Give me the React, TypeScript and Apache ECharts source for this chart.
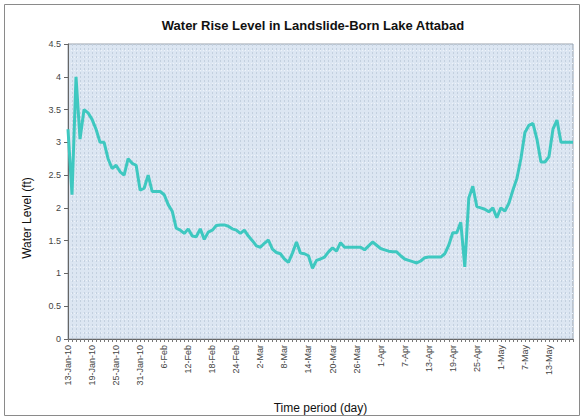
import React, { useEffect, useRef } from "react";
import * as echarts from "echarts";

// Daily water level readings (ft), 13-Jan-2010 .. 19-May-2010
const waterLevel: number[] = [
  3.2, 2.2, 4.0, 3.05, 3.5, 3.45, 3.35, 3.2, 3.0, 3.0,
  2.75, 2.6, 2.65, 2.55, 2.5, 2.75, 2.68, 2.65, 2.27, 2.3,
  2.5, 2.25, 2.25, 2.25, 2.2, 2.05, 1.95, 1.69, 1.66, 1.61,
  1.68, 1.57, 1.56, 1.68, 1.52, 1.63, 1.66, 1.73, 1.74, 1.74,
  1.72, 1.68, 1.66, 1.61, 1.66, 1.57, 1.5, 1.42, 1.4, 1.46,
  1.51, 1.37, 1.32, 1.3, 1.22, 1.17, 1.31, 1.48, 1.31, 1.3,
  1.27, 1.08, 1.2, 1.22, 1.25, 1.33, 1.39, 1.34, 1.47, 1.4,
  1.4, 1.4, 1.4, 1.4, 1.36, 1.42, 1.48, 1.43, 1.38, 1.36,
  1.34, 1.33, 1.33, 1.27, 1.22, 1.2, 1.18, 1.16, 1.19, 1.24,
  1.25, 1.25, 1.25, 1.25, 1.3, 1.43, 1.62, 1.62, 1.78, 1.1,
  2.15, 2.33, 2.02, 2.0, 1.98, 1.94, 2.0, 1.85, 2.0, 1.95,
  2.07, 2.27, 2.45, 2.75, 3.15, 3.26, 3.29, 3.05, 2.7, 2.7,
  2.78, 3.2, 3.34, 3.0, 3.0, 3.0, 3.0,
];

// Axis labels shown every 6th day
const tickLabels: string[] = [
  "13-Jan-10", "19-Jan-10", "25-Jan-10", "31-Jan-10", "6-Feb", "12-Feb",
  "18-Feb", "24-Feb", "2-Mar", "8-Mar", "14-Mar", "20-Mar", "26-Mar",
  "1-Apr", "7-Apr", "13-Apr", "19-Apr", "25-Apr", "1-May", "7-May", "13-May",
];

const yTicks: number[] = [0, 0.5, 1, 1.5, 2, 2.5, 3, 3.5, 4, 4.5];

const MONTHS = ["Jan", "Feb", "Mar", "Apr", "May", "Jun"];
const categories: string[] = waterLevel.map((_, i) => {
  const d = new Date(2010, 0, 13 + i);
  return `${d.getDate()}-${MONTHS[d.getMonth()]}`;
});

export default function App() {
  const ref = useRef<HTMLDivElement>(null);
  useEffect(() => {
    document.body.style.margin = "0";
    const chart = echarts.init(ref.current!, null, { renderer: "svg" });
    const font = "'Liberation Sans', Arial, sans-serif";
    chart.setOption({
      animation: false,
      backgroundColor: "#ffffff",
      textStyle: { fontFamily: font },
      title: {
        text: "Water Rise Level in Landslide-Born Lake Attabad",
        left: 308,
        textAlign: "center",
        top: 14,
        textStyle: { fontSize: 13, fontWeight: "bold", color: "#111", fontFamily: font },
      },
      graphic: [
        {
          type: "rect",
          shape: { x: 4.5, y: 4.5, width: 575, height: 411 },
          style: { fill: "none", stroke: "#8a8a8a", lineWidth: 1 },
          silent: true,
        },
        {
          type: "text",
          x: 27,
          y: 218,
          rotation: Math.PI / 2,
          style: {
            text: "Water Level (ft)",
            fontSize: 12,
            fontFamily: font,
            fill: "#111",
            align: "center",
            verticalAlign: "middle",
          },
          silent: true,
        },
      ],
      grid: {
        left: 68,
        right: 11,
        top: 44,
        bottom: 80,
        show: true,
        backgroundColor: "#dce6f2",
        borderColor: "#9aa3ad",
        borderWidth: 1,
      },
      xAxis: {
        type: "category",
        data: categories,
        boundaryGap: false,
        name: "Time period (day)",
        nameLocation: "middle",
        nameGap: 63,
        nameTextStyle: { fontSize: 12, color: "#111", fontFamily: font },
        axisLine: { lineStyle: { color: "#666", width: 1 } },
        axisTick: { interval: 0, length: 3, lineStyle: { color: "#777" } },
        axisLabel: {
          interval: 0,
          rotate: 90,
          fontSize: 9,
          color: "#444",
          margin: 6,
          formatter: (_v: string, idx: number) =>
            idx % 6 === 0 && tickLabels[idx / 6] ? tickLabels[idx / 6] : "",
        },
        splitLine: {
          show: true,
          interval: 0,
          lineStyle: { color: "#c3d0df", width: 1, type: [2, 2] },
        },
      },
      yAxis: {
        type: "value",
        min: 0,
        max: 4.5,
        interval: 0.5,
        axisLine: { show: true, lineStyle: { color: "#666", width: 1 } },
        axisTick: { show: true, length: 4, lineStyle: { color: "#666" } },
        axisLabel: {
          fontSize: 9,
          color: "#444",
          margin: 7,
          formatter: (v: number) => (yTicks.includes(v) ? String(v) : ""),
        },
        splitLine: { show: false },
        minorTick: { show: false },
        minorSplitLine: {
          show: true,
          lineStyle: { color: "#eef3f9", width: 1, type: [1, 2] },
        },
      },
      series: [
        {
          type: "line",
          data: waterLevel,
          showSymbol: false,
          symbol: "none",
          lineStyle: { color: "#3ec8c0", width: 3 },
          itemStyle: { color: "#3ec8c0" },
        },
      ],
    });
    return () => chart.dispose();
  }, []);
  return <div ref={ref} style={{ width: 584, height: 419 }} />;
}
